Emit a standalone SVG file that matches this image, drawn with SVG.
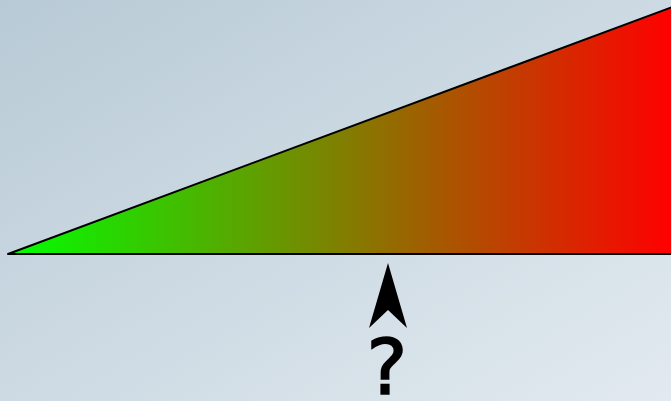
<svg xmlns="http://www.w3.org/2000/svg" width="671" height="401" viewBox="0 0 671 401">
<defs>
<linearGradient id="bg" x1="0" y1="0" x2="1" y2="1">
<stop offset="0" stop-color="#b8cad6"/>
<stop offset="1" stop-color="#e2eaf0"/>
</linearGradient>
<linearGradient id="ramp" gradientUnits="userSpaceOnUse" x1="8" y1="0" x2="671" y2="0">
<stop offset="0" stop-color="#00ff00"/>
<stop offset="1" stop-color="#ff0000"/>
</linearGradient>
</defs>
<rect width="671" height="401" fill="url(#bg)"/>
<g id="triangle">
<path d="M8,254 L675,6 L675,254 Z" fill="url(#ramp)" stroke="#000" stroke-width="2" stroke-linejoin="round"/>
</g>
<g id="marker">
<path d="M388,263 L407,328 L388,310 L369,328 Z" fill="#000"/>
<text x="387" y="394" font-family="DejaVu Sans, sans-serif" font-size="77" text-anchor="middle" fill="#000" stroke="#000" stroke-width="1.6">?</text>
</g>
</svg>
